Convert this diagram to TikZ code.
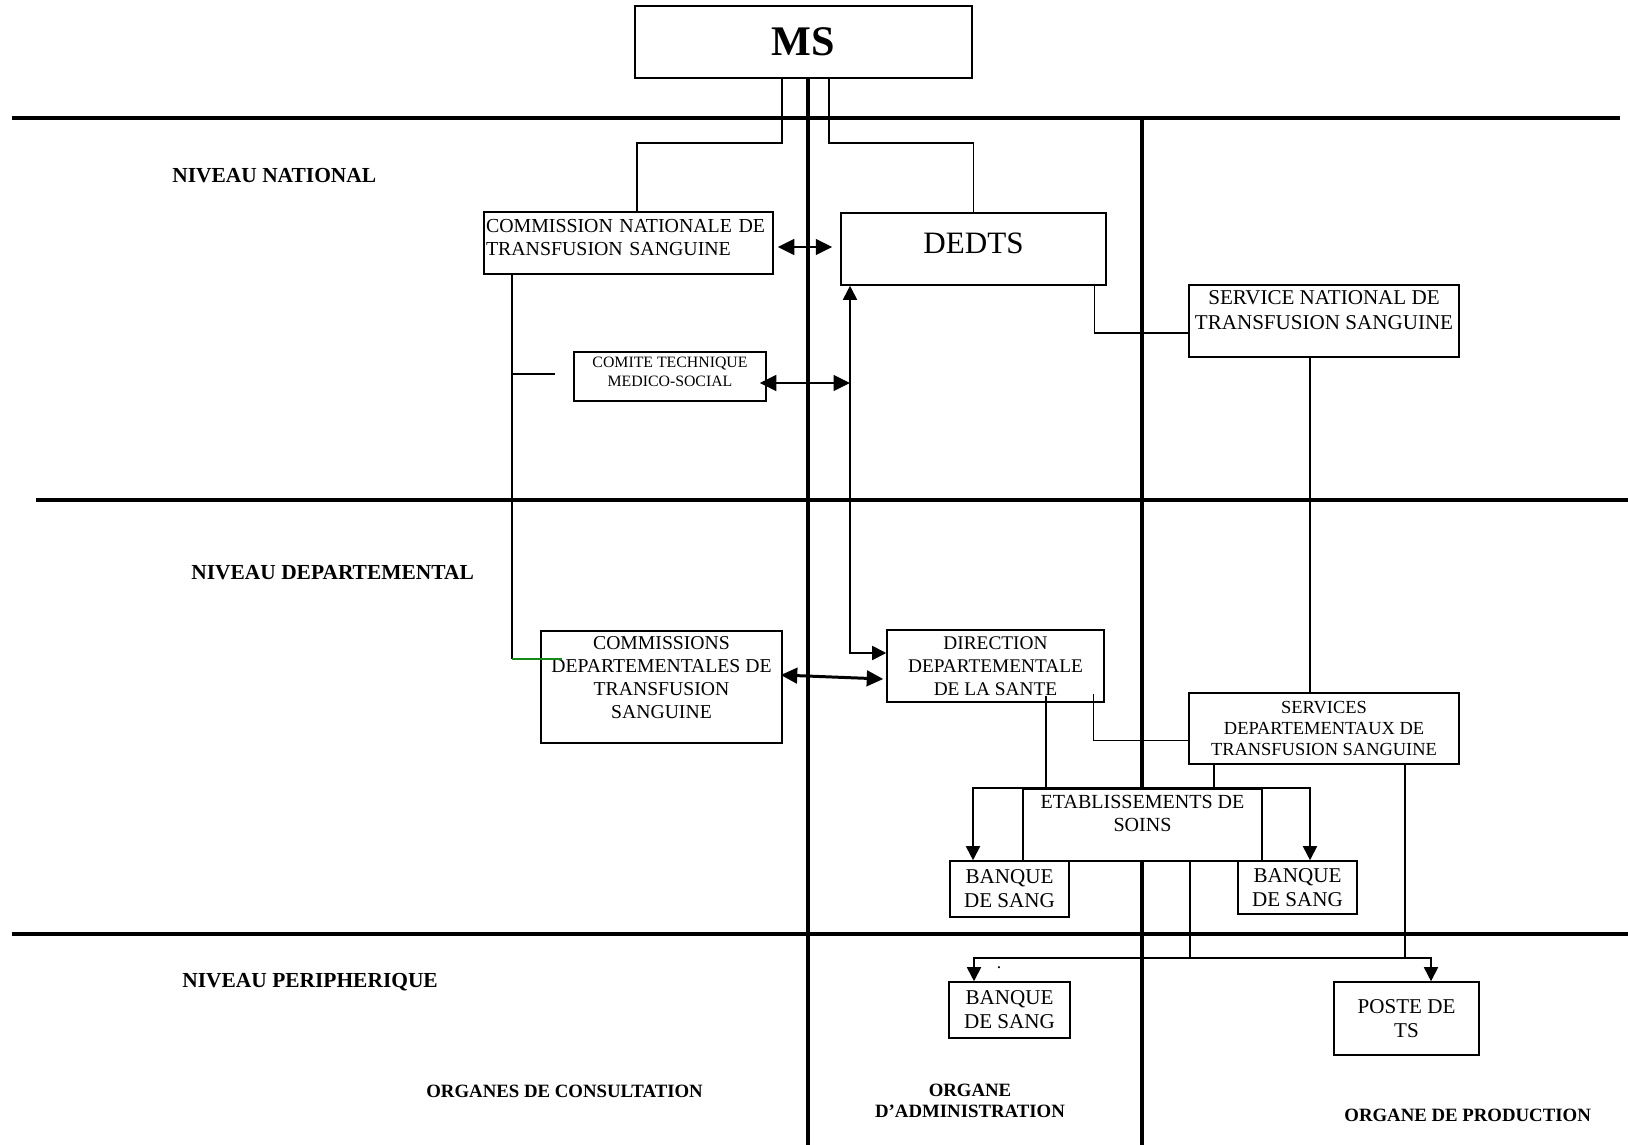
\documentclass[tikz,border=0pt]{standalone}
\usepackage{fontspec}
\setmainfont{Liberation Serif}
\usepackage{tikz}
\usetikzlibrary{arrows.meta}
\definecolor{vert}{RGB}{20,140,20}
\tikzstyle{orgbox} = [rectangle, draw=black, line width=0.9pt, fill=white, align=center, inner sep=1pt, font=\fontsize{11.5}{13.1}\selectfont]
\tikzstyle{levelname} = [anchor=base west, inner sep=0pt, font=\bfseries\fontsize{12.2}{14}\selectfont]
\tikzstyle{organname} = [align=center, inner sep=0pt, font=\bfseries\fontsize{10.7}{11.6}\selectfont]
\tikzstyle{separator} = [line width=2.3pt]
\tikzstyle{link} = [line width=0.75pt]
\tikzstyle{arrow} = [line width=1.7pt,<->,>={Triangle[length=3.3mm,width=3.1mm]}]
\tikzstyle{thinarrow} = [line width=1pt,<->,>={Triangle[length=2.8mm,width=2.8mm]}]

\begin{document}
\begin{tikzpicture}[x=0.02cm, y=-0.02cm]
        \useasboundingbox (0,0) rectangle (1628,1145);
        \node (ms) [orgbox, line width=1.1pt, minimum width=6.74cm, minimum height=1.44cm, font=\bfseries\fontsize{24}{28}\selectfont] at (803.5,42) {MS};

        % separations
        \coordinate (col1) at (808,1145);
        \coordinate (col2) at (1142,1145);
        \draw [separator] (12,118) -- (1620,118);
        \draw [separator] (36,500) -- (1628,500);
        \draw [separator] (12,934) -- (1628,934);
        \draw [separator] (ms.south -| col1) -- (col1);
        \draw [separator] (1142,118) -- (col2);

        \node (cnts) [orgbox, align=left, text width=5.7cm, minimum width=5.78cm, minimum height=1.24cm, text depth=20pt, font=\fontsize{11.3}{13.1}\selectfont] at (628.5,243) {COMMISSION NATIONALE DE\\TRANSFUSION SANGUINE};
        \node (dedts) [orgbox, minimum width=5.3cm, minimum height=1.44cm, text depth=7pt, font=\fontsize{17.7}{20}\selectfont] at (973.5,249) {DEDTS};
        \node (ctms) [orgbox, minimum width=3.84cm, minimum height=0.98cm, text depth=5pt, font=\fontsize{9}{10.8}\selectfont] at (670,376.5) {COMITE TECHNIQUE\\MEDICO-SOCIAL};
        \node (snts) [orgbox, minimum width=5.4cm, minimum height=1.44cm, text depth=12pt, font=\fontsize{12}{14.2}\selectfont] at (1324,321) {SERVICE NATIONAL DE\\TRANSFUSION SANGUINE};
        \node (cdts) [orgbox, minimum width=4.82cm, minimum height=2.24cm, text depth=11pt, font=\fontsize{11.2}{13.1}\selectfont] at (661.5,687) {COMMISSIONS\\DEPARTEMENTALES DE\\TRANSFUSION\\SANGUINE};
        \node (dds) [orgbox, minimum width=4.34cm, minimum height=1.44cm, font=\fontsize{11}{13.1}\selectfont] at (995.5,666) {DIRECTION\\DEPARTEMENTALE\\DE LA SANTE};
        \node (sdts) [orgbox, minimum width=5.4cm, minimum height=1.42cm, font=\fontsize{10.5}{12.2}\selectfont] at (1324,728.5) {SERVICES\\DEPARTEMENTAUX DE\\TRANSFUSION SANGUINE};
        \node (ets) [orgbox, minimum width=4.78cm, minimum height=1.44cm, text depth=13pt, font=\fontsize{11.4}{13.1}\selectfont] at (1142.5,825) {ETABLISSEMENTS DE\\SOINS};
        \node (bs1) [orgbox, minimum width=2.38cm, minimum height=1.12cm, font=\fontsize{12}{13.7}\selectfont] at (1009.5,889) {BANQUE\\DE SANG};
        \node (bs2) [orgbox, minimum width=2.38cm, minimum height=1.06cm, font=\fontsize{12}{13.7}\selectfont] at (1297.5,887.5) {BANQUE\\DE SANG};
        \node (bs3) [orgbox, minimum width=2.42cm, minimum height=1.12cm, font=\fontsize{12}{13.7}\selectfont] at (1009.5,1010) {BANQUE\\DE SANG};
        \node (poste) [orgbox, minimum width=2.9cm, minimum height=1.46cm, font=\fontsize{12}{13.7}\selectfont] at (1406.5,1018.5) {POSTE DE\\TS};
        \node (point) at (999,968) {.};

        \node (national) [levelname] at (172,183) {NIVEAU NATIONAL};
        \node (departemental) [levelname] at (191,579) {NIVEAU DEPARTEMENTAL};
        \node (peripherique) [levelname] at (182,987) {NIVEAU PERIPHERIQUE};
        \node (consultation) [organname, anchor=base west] at (426,1097) {ORGANES DE CONSULTATION};
        \node (administration) [organname] at (970,1101) {ORGANE\\D’ADMINISTRATION};
        \node (production) [organname, anchor=base west] at (1344,1121) {ORGANE DE PRODUCTION};

        % liens du ministere
        \coordinate (msl) at (782,143);
        \coordinate (msr) at (829,143);
        \draw [link] (ms.south -| msl) -- (msl) -| ([shift={(8.5,0)}]cnts.north);
        \draw [link] (ms.south -| msr) -- (msr) -| (dedts.north);

        % consultation
        \coordinate (cnl) at (512,659);
        \coordinate (cnlend) at (562,659);
        \coordinate (dash) at (555,374);
        \draw [link] (cnts.south -| cnl) -- (cnl);
        \draw [link, vert] (cnl) -- (cnlend);
        \draw [link] (dash -| cnl) -- (dash);

        \draw [arrow] ([shift={(4,4)}]cnts.east) -- ([shift={(-8,-2)}]dedts.west);
        \coordinate (coude) at (850,653);
        \coordinate (ctmsA) at ([shift={(-7,6.5)}]ctms.east);
        \draw [arrow] (ctmsA) -- (ctmsA -| coude);
        \draw [thinarrow] (coude |- dedts.south) -- (coude) -- (coude -| dds.west);
        \draw [arrow] ([shift={(-2,-12)}]cdts.east) -- ([shift={(-3,13)}]dds.west);

        % administration et production
        \coordinate (ddsA) at ([shift={(50.5,-7)}]dds.south);
        \coordinate (sdtsA) at ([shift={(-110,0)}]sdts.south);
        \coordinate (sdtsB) at ([shift={(81,0)}]sdts.south);
        \draw [link] ([shift={(-12,0)}]dedts.south east) |- ([shift={(0,12)}]snts.west);
        \draw [link] ([shift={(-14,0)}]snts.south) -- ([shift={(-14,0)}]sdts.north);
        \draw [link] (ddsA) -- (ddsA |- ets.north);
        \draw [link] ([shift={(-11,-9)}]dds.south east) |- ([shift={(0,12)}]sdts.west);
        \draw [link] (sdtsA) -- (sdtsA |- ets.north);
        \draw [thinarrow] ([shift={(-36.5,0)}]bs1.north) |- (ets.north) -| ([shift={(12.5,0)}]bs2.north);

        \coordinate (jonction) at (1190,958);
        \draw [link] (ets.south -| jonction) -- (jonction);
        \draw [link] (sdtsB) -- (sdtsB |- jonction);
        \draw [thinarrow] ([shift={(-35.5,0)}]bs3.north) |- (jonction) -| ([shift={(24.5,0)}]poste.north);
    \end{tikzpicture}
\end{document}
